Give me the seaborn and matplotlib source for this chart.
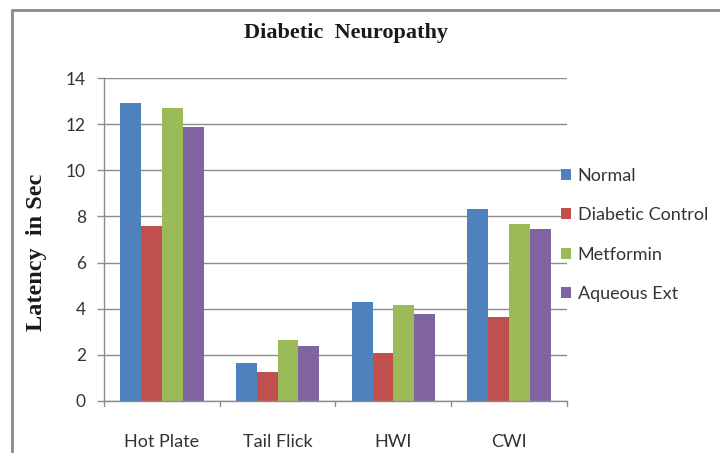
import matplotlib
matplotlib.use("Agg")
import matplotlib.pyplot as plt
import seaborn as sns
import pandas as pd
from matplotlib.patches import Rectangle

tests = ["Hot Plate", "Tail Flick", "HWI", "CWI"]
groups = ["Normal", "Diabetic Control", "Metformin", "Aqueous Ext"]
normal = [12.9, 1.66, 4.28, 8.34]
diabetic_control = [7.57, 1.25, 2.07, 3.66]
metformin = [12.68, 2.64, 4.16, 7.66]
aqueous_ext = [11.86, 2.40, 3.76, 7.47]
colors = ["#4F81BD", "#C0504D", "#9BBB59", "#8064A2"]
yticks = [0, 2, 4, 6, 8, 10, 12, 14]

df = pd.DataFrame({
    "Test": tests * 4,
    "Group": [g for g in groups for _ in tests],
    "Latency": normal + diabetic_control + metformin + aqueous_ext,
})

sns.set_theme(style="white")
plt.rcParams["font.family"] = ["Lato", "DejaVu Sans"]

fig = plt.figure(figsize=(7.2, 4.53), dpi=100)
ax = fig.add_axes([0.1444, 0.1148, 0.6431, 0.713])

sns.barplot(data=df, x="Test", y="Latency", hue="Group", palette=colors,
            width=0.72, ax=ax, saturation=1, linewidth=0, legend=True)

ax.set_ylim(0, 14)
ax.set_xlim(-0.5, 3.5)
ax.set_yticks(yticks)
ax.set_yticklabels([str(t) for t in yticks], fontsize=12.5, color="#333333")
ax.set_xticks(range(len(tests)))
ax.set_xticklabels(tests, fontsize=13, color="#333333")
ax.tick_params(axis="y", length=5, width=1, color="#8c8c8c", pad=8, left=True)
ax.tick_params(axis="x", length=0, pad=24)
# category boundary ticks on the x axis
for xb in [-0.5, 0.5, 1.5, 2.5, 3.5]:
    ax.plot([xb, xb], [0, -0.22], color="#8c8c8c", lw=1, clip_on=False)

ax.yaxis.grid(True, color="#8c8c8c", lw=1)
ax.set_axisbelow(True)
for s in ["top", "right"]:
    ax.spines[s].set_visible(False)
for s in ["left", "bottom"]:
    ax.spines[s].set_color("#8c8c8c")
    ax.spines[s].set_linewidth(1)

ax.set_xlabel("")
ax.set_ylabel("")
fig.text(37 / 720, 1 - 252 / 453, "Latency  in Sec", rotation=90,
         ha="center", va="center", fontsize=17.5, fontweight="bold",
         family=["Liberation Serif", "DejaVu Serif"], color="#1a1a1a")

leg = ax.legend(loc="center left", bbox_to_anchor=(556 / 720, 1 - 235 / 453),
                bbox_transform=fig.transFigure, frameon=False,
                fontsize=13, handlelength=0.55, handleheight=0.55,
                handletextpad=0.35, labelspacing=1.3, borderaxespad=0,
                borderpad=0.3)
for t in leg.get_texts():
    t.set_color("#333333")

fig.text(346 / 720, 1 - 33 / 453, "Diabetic  Neuropathy", ha="center",
         va="center", fontsize=16, fontweight="bold",
         family=["Liberation Serif", "DejaVu Serif"], color="#1a1a1a")

# chart frame
fig.patches.append(Rectangle((12 / 720, -0.1), 1.2, 1 - 10 / 453 + 0.1,
                             transform=fig.transFigure, fill=False,
                             edgecolor="#8a8a8a", lw=2))

fig.savefig("out.png", dpi=100)
